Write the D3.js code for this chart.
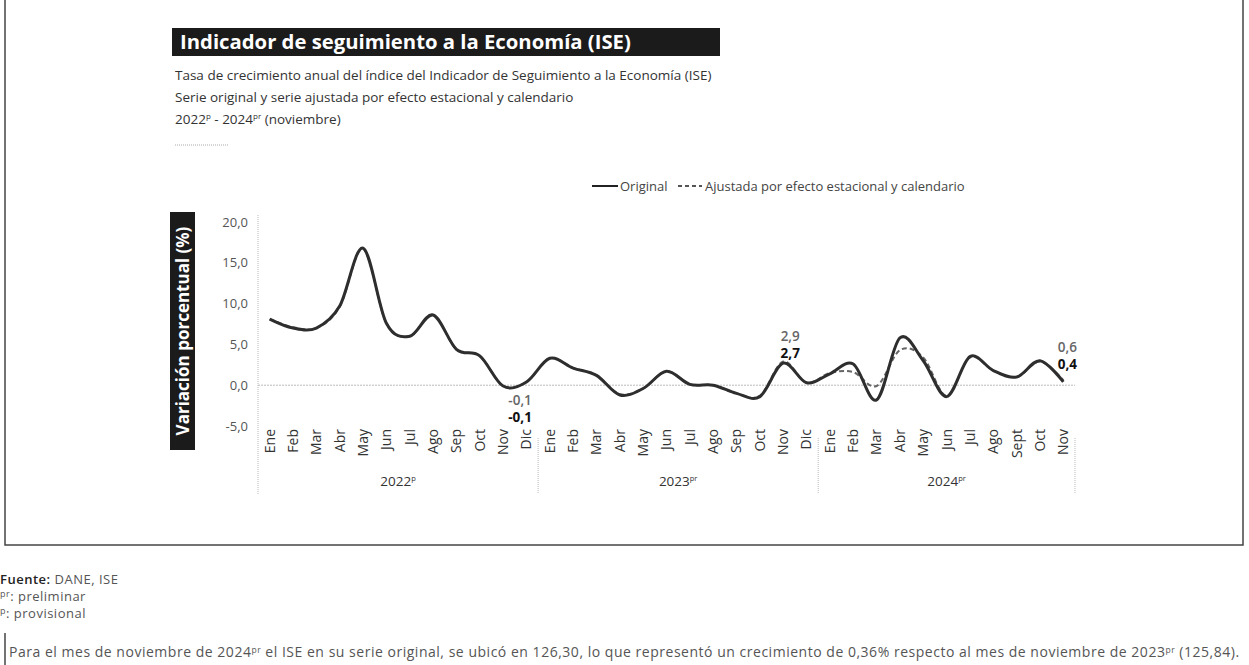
<!DOCTYPE html>
<html>
<head>
<meta charset="utf-8">
<script src="https://cdn.jsdelivr.net/npm/d3@7"></script>
<style>
    body {margin: 0; background: #fff; font-family: "Open Sans", sans-serif;}
</style>
</head>
<body>
<svg id="chart" width="1249" height="665"></svg>
<script>
// Data
const years = ["2022", "2023", "2024"];
const yearMarks = ["p", "pr", "pr"];
const monthLabels = [
    "Ene", "Feb", "Mar", "Abr", "May", "Jun", "Jul", "Ago", "Sep", "Oct", "Nov", "Dic",
    "Ene", "Feb", "Mar", "Abr", "May", "Jun", "Jul", "Ago", "Sep", "Oct", "Nov", "Dic",
    "Ene", "Feb", "Mar", "Abr", "May", "Jun", "Jul", "Ago", "Sept", "Oct", "Nov"
];
const monthsPerYear = [12, 12, 11];
const original = [
    8.1, 7.0, 7.0, 9.7, 16.8, 7.6, 6.0, 8.6, 4.4, 3.6, -0.1, 0.4,
    3.3, 2.1, 1.2, -1.2, -0.4, 1.7, 0.1, 0.0, -1.0, -1.4, 2.7, 0.3,
    1.4, 2.6, -1.8, 5.8, 3.0, -1.4, 3.5, 1.8, 1.0, 3.0, 0.4
];
const ajustada = [
    8.1, 7.1, 7.0, 9.6, 16.7, 7.6, 6.0, 8.6, 4.4, 3.6, -0.1, 0.4,
    3.3, 2.1, 1.2, -1.1, -0.4, 1.7, 0.1, 0.0, -1.0, -1.3, 2.9, 0.3,
    1.5, 1.6, -0.1, 4.3, 3.4, -1.3, 3.4, 1.8, 1.0, 2.9, 0.6
];
const yTicks = [-5, 0, 5, 10, 15, 20];
const labelled = [10, 22, 34];   // Nov of each year

const svg = d3.select("#chart");

const x = d3.scaleBand()
    .domain(d3.range(original.length))
    .range([258, 1075]);
const y = d3.scaleLinear()
    .domain([-5, 20])
    .range([426, 222]);
const cx = i => x(i) + x.bandwidth() / 2;
const fmt = v => d3.format(".1f")(v).replace(".", ",").replace("\u2212", "-");

// Title bar
svg.append("rect")
    .attr("x", 172).attr("y", 28)
    .attr("width", 548).attr("height", 28)
    .attr("fill", "#1b1b1b");
svg.append("text")
    .attr("x", 180).attr("y", 49)
    .attr("fill", "#fff")
    .style("font-size", "20.3px")
    .style("font-weight", "bold")
    .text("Indicador de seguimiento a la Economía (ISE)");

// Subtitles
const sub = svg.append("g")
    .style("font-size", "13.5px")
    .attr("fill", "#333");
sub.append("text").attr("x", 175).attr("y", 80)
    .text("Tasa de crecimiento anual del índice del Indicador de Seguimiento a la Economía (ISE)");
sub.append("text").attr("x", 175).attr("y", 102)
    .text("Serie original y serie ajustada por efecto estacional y calendario");
let t3 = sub.append("text").attr("x", 175).attr("y", 124);
t3.append("tspan").text("2022");
t3.append("tspan").attr("dy", -5).style("font-size", "8px").text("p");
t3.append("tspan").attr("dy", 5).text(" - 2024");
t3.append("tspan").attr("dy", -5).style("font-size", "8px").text("pr");
t3.append("tspan").attr("dy", 5).text(" (noviembre)");

svg.append("line")
    .attr("x1", 175).attr("x2", 228)
    .attr("y1", 145).attr("y2", 145)
    .attr("stroke", "#aaa")
    .attr("stroke-dasharray", "1,1");

// Legend
const leg = svg.append("g")
    .style("font-family", "'Liberation Sans Narrow', 'Open Sans', sans-serif")
    .style("font-size", "13px")
    .attr("fill", "#444");
leg.append("line")
    .attr("x1", 592).attr("x2", 618).attr("y1", 186).attr("y2", 186)
    .attr("stroke", "#222").attr("stroke-width", 2);
leg.append("text").attr("x", 620).attr("y", 191).text("Original");
leg.append("line")
    .attr("x1", 678).attr("x2", 702).attr("y1", 186).attr("y2", 186)
    .attr("stroke", "#555").attr("stroke-width", 1.8)
    .attr("stroke-dasharray", "4,3");
leg.append("text").attr("x", 705).attr("y", 191)
    .text("Ajustada por efecto estacional y calendario");

// Y axis title
svg.append("rect")
    .attr("x", 170).attr("y", 212)
    .attr("width", 25).attr("height", 238)
    .attr("fill", "#1b1b1b");
svg.append("text")
    .attr("transform", "translate(188.5,331) rotate(-90)")
    .attr("text-anchor", "middle")
    .attr("fill", "#fff")
    .style("font-size", "17px")
    .style("font-weight", "bold")
    .text("Variación porcentual (%)");

// Y axis
const yAxis = d3.axisLeft(y)
    .tickValues(yTicks)
    .tickSize(0)
    .tickPadding(10)
    .tickFormat(fmt);
const gy = svg.append("g")
    .attr("transform", "translate(258,0)")
    .call(yAxis);
gy.select(".domain").remove();
gy.selectAll("text")
    .attr("fill", "#555")
    .style("font-family", "'Open Sans', sans-serif")
    .style("font-size", "13px");

// Dotted vertical axis and year separators
const yearEdges = [0];
monthsPerYear.forEach((m, k) => yearEdges.push(yearEdges[k] + m));
svg.append("line")
    .attr("x1", 258).attr("x2", 258)
    .attr("y1", 215).attr("y2", 494)
    .attr("stroke", "#bbb")
    .attr("stroke-dasharray", "1,1");
svg.selectAll(".sep")
    .data(yearEdges.slice(1))
    .enter()
    .append("line")
    .attr("class", "sep")
    .attr("x1", d => d < original.length ? x(d) : x(d - 1) + x.bandwidth())
    .attr("x2", d => d < original.length ? x(d) : x(d - 1) + x.bandwidth())
    .attr("y1", 438).attr("y2", 494)
    .attr("stroke", "#bbb")
    .attr("stroke-dasharray", "1,1");

// Zero line
svg.append("line")
    .attr("x1", 258).attr("x2", 1075)
    .attr("y1", y(0)).attr("y2", y(0))
    .attr("stroke", "#bbb")
    .attr("stroke-dasharray", "2,1");

// Month labels
svg.selectAll(".month")
    .data(monthLabels)
    .enter()
    .append("text")
    .attr("class", "month")
    .attr("transform", (d, i) => "translate(" + cx(i) + ",429) rotate(-90)")
    .attr("text-anchor", "end")
    .attr("dy", "0.35em")
    .attr("fill", "#333")
    .style("font-size", "14px")
    .text(d => d);

// Year labels
svg.selectAll(".year")
    .data(years)
    .enter()
    .append("text")
    .attr("class", "year")
    .attr("x", (d, k) => {
        let a = x(yearEdges[k]);
        let b = x(yearEdges[k + 1] - 1) + x.bandwidth();
        return (a + b) / 2;
    })
    .attr("y", 486)
    .attr("text-anchor", "middle")
    .attr("fill", "#333")
    .style("font-size", "13.5px")
    .each(function (d, k) {
        let t = d3.select(this);
        t.append("tspan").text(d);
        t.append("tspan").attr("dy", -5).style("font-size", "7.5px").text(yearMarks[k]);
    });

// Lines
const line = d3.line()
    .x((d, i) => cx(i))
    .y(d => y(d))
    .curve(d3.curveCardinal.tension(0));

svg.append("path")
    .datum(ajustada)
    .attr("fill", "none")
    .attr("stroke", "#666")
    .attr("stroke-width", 2)
    .attr("stroke-dasharray", "5,3")
    .attr("d", line);

svg.append("path")
    .datum(original)
    .attr("fill", "none")
    .attr("stroke", "#2e2e2e")
    .attr("stroke-width", 3)
    .attr("d", line);

// Value labels: adjusted (grey) above original (bold)
const labelDx = [17, 7, 4];
const labelDy = [19, -21, -28];
labelled.forEach(function (i, k) {
    let ref = k === 0 ? y(original[i]) : y(Math.max(original[i], ajustada[i]));
    let top = ref + labelDy[k];
    svg.append("text")
        .attr("x", cx(i) + labelDx[k]).attr("y", top)
        .attr("text-anchor", "middle")
        .attr("fill", "#666")
        .style("font-size", "13.5px")
        .style("font-weight", "600")
        .text(fmt(ajustada[i]));
    svg.append("text")
        .attr("x", cx(i) + labelDx[k]).attr("y", top + 17)
        .attr("text-anchor", "middle")
        .attr("fill", "#111")
        .style("font-size", "13.5px")
        .style("font-weight", "bold")
        .text(fmt(original[i]));
});

// Frame
svg.append("rect")
    .attr("x", 5).attr("y", -2)
    .attr("width", 1238).attr("height", 547)
    .attr("fill", "none")
    .attr("stroke", "#444")
    .attr("stroke-width", 1.5);

// Footer
const foot = svg.append("g")
    .style("font-size", "13px")
    .style("letter-spacing", "0.5px")
    .attr("fill", "#555");
let f1 = foot.append("text").attr("x", 0).attr("y", 584);
f1.append("tspan").attr("fill", "#222").style("font-weight", "600").text("Fuente:");
f1.append("tspan").text(" DANE, ISE");
let f2 = foot.append("text").attr("x", 0).attr("y", 601);
f2.append("tspan").attr("dy", -4).style("font-size", "9px").text("pr");
f2.append("tspan").attr("dy", 4).text(": preliminar");
let f3 = foot.append("text").attr("x", 0).attr("y", 618);
f3.append("tspan").attr("dy", -4).style("font-size", "9px").text("p");
f3.append("tspan").attr("dy", 4).text(": provisional");

svg.append("line")
    .attr("x1", 5).attr("x2", 5)
    .attr("y1", 633).attr("y2", 665)
    .attr("stroke", "#444")
    .attr("stroke-width", 1.5);
let b = svg.append("text")
    .attr("x", 9).attr("y", 657)
    .attr("fill", "#555")
    .style("font-size", "14px")
    .style("letter-spacing", "0.52px");
b.append("tspan").text("Para el mes de noviembre de 2024");
b.append("tspan").attr("dy", -4).style("font-size", "8.5px").text("pr");
b.append("tspan").attr("dy", 4).text(" el ISE en su serie original, se ubicó en 126,30, lo que representó un crecimiento de 0,36% respecto al mes de noviembre de 2023");
b.append("tspan").attr("dy", -4).style("font-size", "8.5px").text("pr");
b.append("tspan").attr("dy", 4).text(" (125,84).");
</script>
</body>
</html>
